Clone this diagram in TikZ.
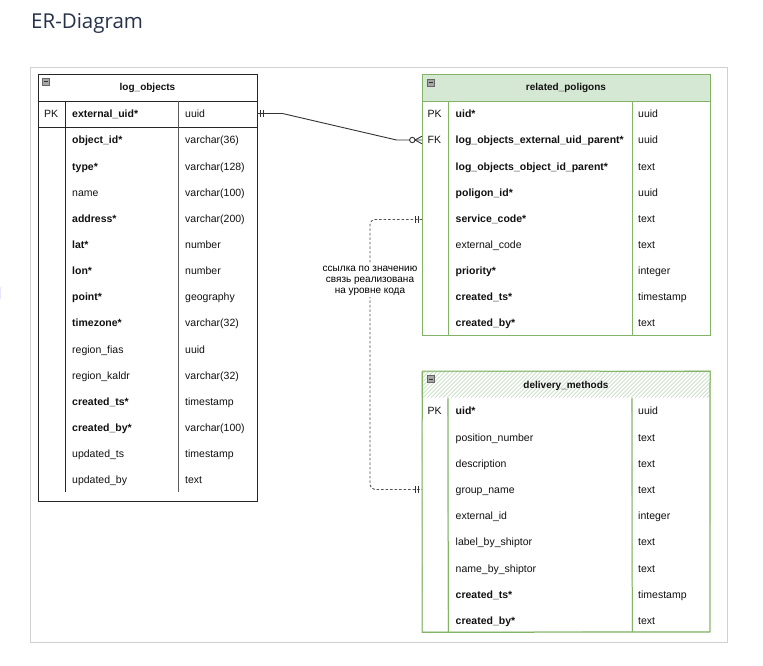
\documentclass[tikz,border=0pt]{standalone}
\usepackage{fontspec}
\setmainfont{Liberation Sans}
\newfontfamily\titlefont{Open Sans}
\definecolor{grn}{HTML}{82B366}
\definecolor{grnfill}{HTML}{D5E8D4}
\definecolor{hatchc}{HTML}{C5DDC1}
\definecolor{edgec}{HTML}{333333}
\definecolor{framec}{HTML}{D0D0D0}
\definecolor{titlec}{HTML}{26324A}
\definecolor{txtc}{HTML}{111111}
\tikzset{
  fieldtext/.style={anchor=west, inner sep=0pt, text height=7pt, text depth=0pt, text=txtc},
  headtext/.style={inner sep=0pt, text height=7pt, text depth=0pt, font=\bfseries, text=txtc},
  erline/.style={draw=edgec, line width=0.9pt},
  dashline/.style={draw=edgec!85, line width=0.9pt, dash pattern=on 2.5pt off 2pt},
  minusicon/.style={fill=black!35, draw=black!60, line width=0.6pt},
  tblblack/.style={draw=black!85, line width=0.9pt},
  tblgreen/.style={draw=grn, line width=0.9pt},
}
\newcommand\minusbox[2]{%
  \draw[minusicon] (#1,#2) rectangle ++(7,7);
  \draw[black!80, line width=1pt] (#1+1.5,#2+3.5) -- ++(4,0);}
\begin{document}
\begin{tikzpicture}[x=1pt,y=-1pt,font=\fontsize{10.5}{12}\selectfont]
\useasboundingbox (0,0) rectangle (763,666);
\fill[white] (0,0) rectangle (763,666);
% left edge mark
\fill[black!15!blue!10!white] (0,286.5) rectangle (1,299);
% title
\node[anchor=base west, inner sep=0pt, font=\titlefont\fontsize{20.5}{24}\selectfont, text=titlec] (title) at (31,29) {ER-Diagram};
% frame
\draw[framec, line width=0.9pt] (30,67) rectangle (727,642);

% ---------------- log_objects ----------------
\draw[tblblack] (38,74) rectangle (257,501);
\draw[tblblack] (38,101) -- (257,101);
\draw[tblblack] (38,127) -- (257,127);
\draw[tblblack] (65,101) -- (65,492);
\draw[black!65, line width=0.9pt] (178,101) -- (178,492);
\minusbox{42}{78}
\node[headtext] (lo-title) at (147.5,87.5) {log\_objects};
\node[fieldtext] (lo-pk) at (44,114) {PK};
\foreach \nm/\ty/\b [count=\i from 0] in {
  external\_uid*/uuid/1, object\_id*/varchar(36)/1, type*/varchar(128)/1,
  name/varchar(100)/0, address*/varchar(200)/1, lat*/number/1, lon*/number/1,
  point*/geography/1, timezone*/varchar(32)/1, region\_fias/uuid/0,
  region\_kaldr/varchar(32)/0, created\_ts*/timestamp/1, created\_by*/varchar(100)/1,
  updated\_ts/timestamp/0, updated\_by/text/0}{
  \node[fieldtext] (lo-n\i) at (72,114.3+26.14*\i) {\ifnum\b=1 \bfseries\fi\nm};
  \node[fieldtext] (lo-t\i) at (185,114.3+26.14*\i) {\ty};
}

% ---------------- related_poligons ----------------
\fill[grnfill] (422,74) rectangle (710,101);
\draw[tblgreen] (422,74) rectangle (710,335);
\draw[tblgreen] (422,101) -- (710,101);
\draw[tblgreen] (448,101) -- (448,335);
\draw[tblgreen] (632,101) -- (632,335);
\minusbox{427}{79}
\node[headtext] (rp-title) at (566,87.5) {related\_poligons};
\node[fieldtext] (rp-pk) at (427.5,114.3) {PK};
\node[fieldtext] (rp-fk) at (427.5,140.4) {FK};
\foreach \nm/\ty/\b [count=\i from 0] in {
  uid*/uuid/1, log\_objects\_external\_uid\_parent*/uuid/1,
  log\_objects\_object\_id\_parent*/text/1, poligon\_id*/uuid/1,
  service\_code*/text/1, external\_code/text/0, priority*/integer/1,
  created\_ts*/timestamp/1, created\_by*/text/1}{
  \node[fieldtext] (rp-n\i) at (455.5,114.3+26.12*\i) {\ifnum\b=1 \bfseries\fi\nm};
  \node[fieldtext] (rp-t\i) at (638,114.3+26.12*\i) {\ty};
}

% ---------------- delivery_methods (sketch) ----------------
\begin{scope}
  \clip (422,371) rectangle (710,397.5);
  \foreach \x in {395,399,...,715}{
    \draw[hatchc, line width=0.7pt] (\x,397.5) -- (\x+27,370.5);
  }
\end{scope}
\draw[tblgreen, line width=1pt] (422.3,371) -- (710,371.4) -- (709.8,632) -- (422,632.4) -- cycle;
\draw[grn, line width=0.6pt, opacity=0.55] (421.7,371.8) -- (710.5,370.7) -- (710.4,631.5) -- (422.7,631.6) -- cycle;
\draw[tblgreen, line width=1pt] (448,398) -- (448.4,632);
\draw[grn, line width=0.6pt, opacity=0.55] (447.5,398.6) -- (448.1,631.4);
\draw[tblgreen, line width=1pt] (632,398) -- (632.3,632);
\draw[grn, line width=0.6pt, opacity=0.55] (631.5,398.5) -- (632.2,631.5);
\minusbox{427}{375.5}
\node[headtext] (dm-title) at (566,384.5) {delivery\_methods};
\node[fieldtext] (dm-pk) at (427.5,411.3) {PK};
\foreach \nm/\ty/\b [count=\i from 0] in {
  uid*/uuid/1, position\_number/text/0, description/text/0, group\_name/text/0,
  external\_id/integer/0, label\_by\_shiptor/text/0, name\_by\_shiptor/text/0,
  created\_ts*/timestamp/1, created\_by*/text/1}{
  \node[fieldtext] (dm-n\i) at (455.5,411.3+26.2*\i) {\ifnum\b=1 \bfseries\fi\nm};
  \node[fieldtext] (dm-t\i) at (638,411.3+26.2*\i) {\ty};
}

% ---------------- connectors ----------------
\coordinate (lo-ext) at (257,113.5);
\coordinate (rp-fkend) at (422,140);
\draw[erline] (lo-ext) -- (282.5,113.5) -- (396.5,140) -- (rp-fkend);
\draw[erline] (260.2,109.8) -- (260.2,117.2);
\draw[erline] (263,109.8) -- (263,117.2);
\draw[erline, fill=white] (412.3,140) circle (2.7);
\draw[erline] (415,140) -- (422,136.2);
\draw[erline] (415,140) -- (422,143.8);

\coordinate (rp-sc) at (422,219.5);
\coordinate (dm-gn) at (422,489.5);
\draw[dashline, rounded corners=5pt] (rp-sc) -- (370,219.5) -- (370,489.5) -- (dm-gn);
\draw[erline] (415.3,215.8) -- (415.3,223.2);
\draw[erline] (418.3,215.8) -- (418.3,223.2);
\draw[erline] (415.8,485.8) -- (415.8,493.2);
\draw[erline] (418.8,485.8) -- (418.8,493.2);
\node[fill=white, align=center, inner sep=1.5pt, text=black, font=\fontsize{10}{11}\selectfont] (note) at (370,280.5) {ссылка по значению\\связь реализована\\на уровне кода};
\end{tikzpicture}
\end{document}
